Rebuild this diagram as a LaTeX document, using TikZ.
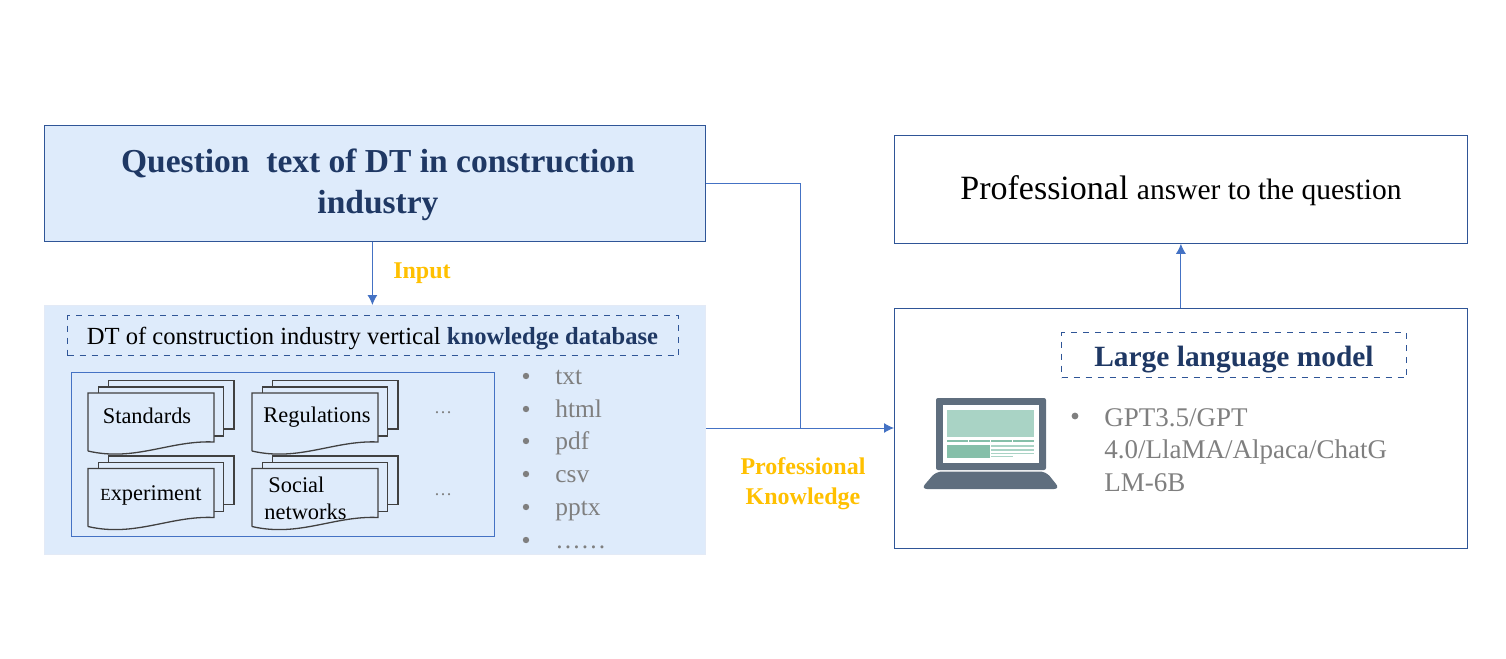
\documentclass[tikz,border=0pt]{standalone}
\usepackage{fontspec}
\usetikzlibrary{arrows.meta}
\setmainfont{Liberation Serif}
\definecolor{boxblue}{HTML}{DEEBFB}
\definecolor{edgeblue}{HTML}{4472C4}
\definecolor{darkblue}{HTML}{2F5597}
\definecolor{navy}{HTML}{1F3864}
\definecolor{gold}{HTML}{FFC000}
\definecolor{greytext}{HTML}{7F7F7F}
\definecolor{slate}{HTML}{5F6E7E}
\definecolor{lightgreen}{HTML}{A9D3C5}
\definecolor{midgreen}{HTML}{85BFA9}
\tikzset{
    panel/.style={draw=#1, inner sep=0pt},
    dashbox/.style={draw=darkblue, dashed, line width=0.5pt, inner sep=0pt},
    link/.style={draw=edgeblue, line width=0.5pt},
    linkarrow/.style={link, -{Latex[length=5pt, width=5pt]}},
    goldlabel/.style={text=gold, font=\fontsize{12}{15}\selectfont\bfseries, align=center},
    doclabel/.style={font=\fontsize{11.2}{13.5}\selectfont, align=left, inner sep=0pt},
    listlabel/.style={text=greytext, font=\fontsize{12.7}{15}\selectfont, inner sep=0pt, anchor=base west},
    docsheet/.style={draw=black!75, fill=boxblue, line width=0.65pt}
}
\begin{document}
\begin{tikzpicture}[x=0.5pt, y=-0.5pt]
    \useasboundingbox (0, 0) rectangle (1506, 659);
    % Boxes
    \node[panel=darkblue, fill=boxblue, minimum width=330.5pt, minimum height=58pt, anchor=north west] (question) at (44, 125) {};
    \node[align=center, text=navy, font=\fontsize{16.75}{20.75}\selectfont\bfseries, inner sep=0pt] (questiontext) at (378, 185)
        {Question\ \ text of DT in construction\\industry};
    \node[panel=darkblue, minimum width=286.5pt, minimum height=54pt, anchor=north west] (answer) at (894, 135) {};
    \node[inner sep=0pt, anchor=base] (answertext) at (1181, 199)
        {\fontsize{17}{20}\selectfont Professional \fontsize{14.75}{20}\selectfont answer to the question};
    \node[panel=darkblue, minimum width=286.5pt, minimum height=120pt, anchor=north west] (model) at (894, 308) {};
    \node[panel=white!85!edgeblue, fill=boxblue, minimum width=330.5pt, minimum height=124.5pt, anchor=north west] (database) at (44, 305) {};
    \node[dashbox, minimum width=305.5pt, minimum height=20pt, anchor=north west] (dbtitle) at (67, 315) {};
    \node[inner sep=0pt, anchor=base, font=\fontsize{12.3}{14}\selectfont] (dbtext) at (372.5, 344)
        {DT of construction industry vertical \textcolor{navy}{\textbf{knowledge database}}};
    \node[panel=edgeblue, minimum width=211.5pt, minimum height=82pt, anchor=north west] (sources) at (71, 372) {};
    \node[dashbox, minimum width=172.5pt, minimum height=22.5pt, anchor=north west] (modeltitle) at (1061, 332) {};
    \node[inner sep=0pt, anchor=base, text=navy, font=\fontsize{14.7}{16}\selectfont\bfseries] (modeltext) at (1234, 366) {Large language model};
    % Document stacks
    \foreach \dx/\dy in {0/0, 164/0, 0/75.5, 164/75.5} {
        \begin{scope}[shift={(\dx, \dy)}]
            \draw[docsheet] (108.5, 380.5) rectangle (234, 429);
            \draw[docsheet] (98.5, 387) rectangle (223.5, 436);
            \draw[docsheet] (88, 451) -- (88, 393) -- (214, 393) -- (214, 442)
                .. controls (170, 440) and (135, 462) .. (88, 451);
        \end{scope}
    }
    \node[doclabel] (standards) at (147, 416) {Standards};
    \node[doclabel] (regulations) at (317, 417) {Regulations};
    \node[doclabel] (experiment) at (151, 495) {{\fontsize{8.5}{10}\selectfont E}xperiment};
    \node[doclabel, anchor=north west] (social) at (264, 477) {\hspace{2pt}Social\\networks};
    \node[text=greytext, font=\fontsize{9}{10}\selectfont, inner sep=0pt] (moreup) at (443, 413) {\textellipsis};
    \node[text=greytext, font=\fontsize{9}{10}\selectfont, inner sep=0pt] (moredown) at (443, 495) {\textellipsis};
    % File types
    \foreach \y/\ftype in {376/txt, 409/html, 441/pdf, 474/csv, 507/pptx, 540/……} {
        \node[listlabel] (type\y) at (555, \y+8.5) {\ftype};
        \fill[greytext] (526, \y) circle (3.2);
    }
    % Laptop
    \fill[slate, rounded corners=1pt] (936, 398) rectangle (1046, 470);
    \fill[white] (943, 405) rectangle (1039, 463);
    \fill[lightgreen] (947, 410) rectangle (1034, 437);
    \foreach \x in {947, 969, 991, 1013} {
        \fill[midgreen] (\x, 439.5) rectangle (\x+21, 442);
    }
    \fill[midgreen] (947, 444.5) rectangle (990, 457.5);
    \foreach \y in {445, 449, 452.5} {
        \fill[lightgreen] (991, \y) rectangle (1034, \y+1.5);
    }
    \fill[lightgreen] (991, 455.5) rectangle (1013, 457);
    \fill[slate, rounded corners=3pt] (936, 471.5) -- (1046, 471.5) -- (1060, 489) -- (921, 489) -- cycle;
    % Model list
    \fill[greytext] (1075, 416) circle (3.4);
    \node[text=greytext, font=\fontsize{13.5}{16.2}\selectfont, align=left, inner sep=0pt, anchor=north west] (modellist) at (1104, 408)
        {GPT3.5/GPT\\4.0/LlaMA/Alpaca/ChatG\\LM-6B};
    % Connectors
    \coordinate (join) at (800, 428);
    \draw[linkarrow] ([xshift=-1.25pt]question.south) -- ([xshift=-1.25pt]question.south |- database.north);
    \draw[link] (question.east |- 0, 183) -| (join);
    \draw[linkarrow] (database.east |- join) -- (model.west |- join);
    \draw[linkarrow] (model.north) -- (answer.south);
    % Labels
    \node[goldlabel] (inputlabel) at (422, 273) {Input};
    \node[goldlabel] (knowlabel) at (803, 484) {Professional\\Knowledge};
\end{tikzpicture}
\end{document}
